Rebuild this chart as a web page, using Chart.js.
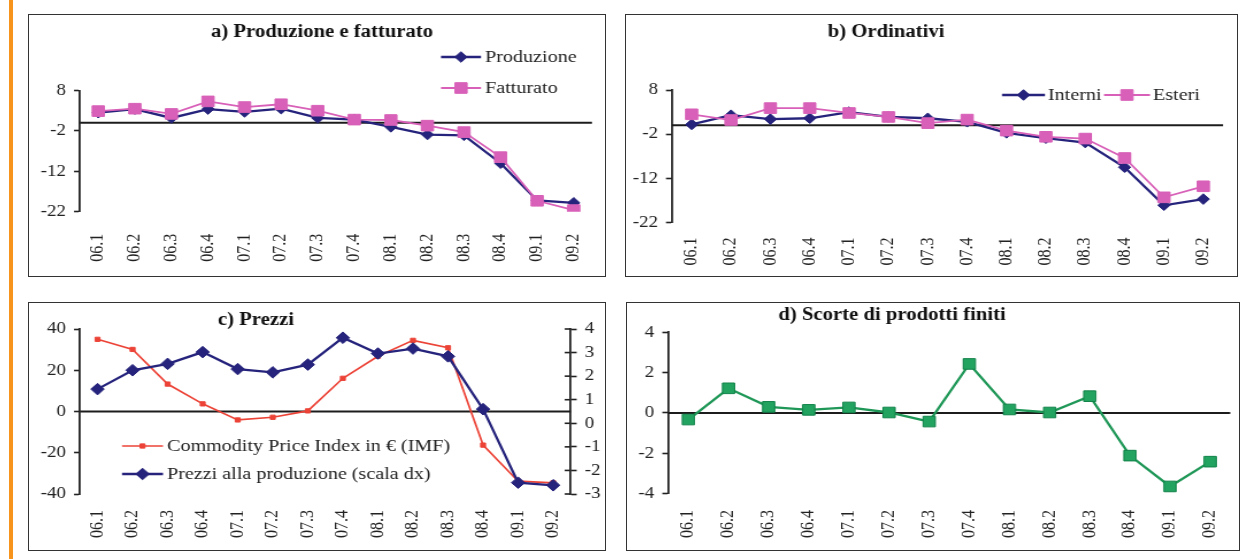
<!DOCTYPE html>
<html>
<head>
<meta charset="utf-8">
<script src="https://cdn.jsdelivr.net/npm/chart.js@4.4.1/dist/chart.umd.min.js"></script>
<style>
  html, body { margin: 0; padding: 0; background: #fff; }
  #page { position: relative; width: 1244px; height: 559px; overflow: hidden; background: #fff; }
  .bar { position: absolute; left: 9px; top: 0; width: 4px; height: 559px; background: #F7941D; }
  canvas { position: absolute; }
  .frame { position: absolute; border: 1px solid #333; box-sizing: border-box; pointer-events: none; }
</style>
</head>
<body>
<div id="page"><div class="bar"></div></div>
<script>
// Quarters (year.quarter)
const categories = ['06.1','06.2','06.3','06.4','07.1','07.2','07.3','07.4','08.1','08.2','08.3','08.4','09.1','09.2'];

// a) Produzione e fatturato
const produzione = [2.5, 3.4, 1.2, 3.4, 2.7, 3.5, 1.2, 0.8, -1.0, -2.9, -3.1, -10.0, -19.2, -19.8];
const fatturato  = [2.9, 3.5, 2.2, 5.3, 3.9, 4.6, 3.0, 0.8, 0.7, -0.7, -2.3, -8.5, -19.3, -21.6];

// b) Ordinativi
const interni = [0.2, 2.3, 1.4, 1.6, 3.0, 1.9, 1.6, 0.8, -1.7, -2.9, -3.9, -9.5, -18.1, -16.7];
const esteri  = [2.5, 1.2, 3.9, 3.9, 2.8, 1.9, 0.5, 1.3, -1.2, -2.6, -3.0, -7.4, -16.3, -13.8];

// c) Prezzi (commodity index on the left scale, producer prices on the right scale)
const commodity = [35.0, 30.1, 13.3, 3.7, -4.1, -2.8, 0.3, 16.1, 26.8, 34.5, 30.9, -16.3, -33.8, -34.6];
const prezzi    = [1.45, 2.25, 2.52, 3.02, 2.30, 2.16, 2.49, 3.63, 2.96, 3.17, 2.84, 0.60, -2.52, -2.63];

// d) Scorte di prodotti finiti
const scorte = [-0.33, 1.22, 0.30, 0.15, 0.27, 0.02, -0.43, 2.43, 0.17, 0.02, 0.83, -2.12, -3.65, -2.42];

// Tick labels of the value axes
const ticksA = [8, -2, -12, -22];
const ticksB = [8, -2, -12, -22];
const ticksCLeft = [40, 20, 0, -20, -40];
const ticksCRight = [4, 3, 2, 1, 0, -1, -2, -3];
const ticksD = [4, 2, 0, -2, -4];

const SERIF = '"Liberation Serif", "Times New Roman", serif';
const STRETCH = 1.15;   // horizontal widening of each panel's drawing
const NAVY = '#25237B', PINK = '#D860B8', RED = '#EC4337', GREEN = '#1F9757';
const TEXT = '#222';

function drawMarker(ctx, ds, x, y) {
  const r = ds.pointRadius;
  ctx.beginPath();
  if (ds.pointStyle === 'rect') {
    const s = r * Math.SQRT1_2;
    ctx.rect(x - s, y - s, 2 * s, 2 * s);
  } else {
    ctx.moveTo(x - r, y); ctx.lineTo(x, y - r); ctx.lineTo(x + r, y); ctx.lineTo(x, y + r);
    ctx.closePath();
  }
  ctx.fillStyle = ds.pointBackgroundColor;
  ctx.fill();
  ctx.lineWidth = ds.pointBorderWidth;
  ctx.strokeStyle = ds.pointBorderColor;
  ctx.stroke();
}

// Zero reference line, panel title, legend and inner tick halves
const decor = {
  id: 'decor',
  beforeDatasetsDraw(chart, args, o) {
    const { ctx, chartArea: a } = chart;
    const y0 = chart.scales.y.getPixelForValue(0);
    ctx.save();
    ctx.strokeStyle = '#1c1c1c';
    ctx.lineWidth = 2;
    ctx.beginPath(); ctx.moveTo(a.left, y0); ctx.lineTo(a.right, y0); ctx.stroke();
    ctx.restore();
  },
  afterDraw(chart, args, o) {
    const ctx = chart.ctx;
    ctx.save();
    ctx.font = 'bold 18px ' + SERIF;
    ctx.fillStyle = '#111';
    ctx.textAlign = 'center';
    ctx.textBaseline = 'middle';
    ctx.fillText(o.title.text, o.X(o.title.x), o.Y(o.title.y));

    (o.legend || []).forEach(it => {
      const ds = chart.data.datasets[it.ds];
      const y = o.Y(it.y);
      ctx.strokeStyle = ds.borderColor;
      ctx.lineWidth = ds.borderWidth;
      ctx.beginPath(); ctx.moveTo(o.X(it.x0), y); ctx.lineTo(o.X(it.x1), y); ctx.stroke();
      drawMarker(ctx, ds, o.X((it.x0 + it.x1) / 2), y);
      ctx.font = '17.5px ' + SERIF;
      ctx.fillStyle = TEXT;
      ctx.textAlign = 'left';
      ctx.textBaseline = 'middle';
      ctx.fillText(ds.label, o.X(it.tx), y);
    });

    if (o.innerTicks && chart.scales.y2) {
      const s = chart.scales.y2, a = chart.chartArea;
      ctx.strokeStyle = '#222';
      ctx.lineWidth = 1.6;
      s.ticks.forEach(t => {
        const py = s.getPixelForValue(t.value);
        ctx.beginPath(); ctx.moveTo(a.right - o.tickIn, py); ctx.lineTo(a.right, py); ctx.stroke();
      });
    }
    ctx.restore();
  }
};
Chart.register(decor);

function valueAxis(values, position, widthCanvas, sx) {
  return {
    type: 'linear',
    position,
    min: Math.min(...values),
    max: Math.max(...values),
    afterBuildTicks: s => { s.ticks = values.map(v => ({ value: v })); },
    afterFit: s => { s.width = widthCanvas; s.paddingTop = 0; s.paddingBottom = 0; },
    grid: { drawOnChartArea: false, drawTicks: true, tickLength: 6 / sx, tickColor: '#222', tickWidth: 1.6, color: '#222' },
    border: { display: true, color: '#222', width: 1.8 },
    ticks: { padding: 8 / sx, color: TEXT, font: { family: SERIF, size: 16.5 }, callback: v => String(v) }
  };
}

function panel(p) {
  const page = document.getElementById('page');
  const w = p.box.r - p.box.l, h = p.box.b - p.box.t;
  const cw = Math.round(w / STRETCH);
  const sx = w / cw;
  const cv = document.createElement('canvas');
  cv.width = cw; cv.height = h;
  cv.style.left = p.box.l + 'px'; cv.style.top = p.box.t + 'px';
  cv.style.width = w + 'px'; cv.style.height = h + 'px';
  page.appendChild(cv);
  const fr = document.createElement('div');
  fr.className = 'frame';
  fr.style.left = p.box.l + 'px'; fr.style.top = p.box.t + 'px';
  fr.style.width = w + 'px'; fr.style.height = h + 'px';
  page.appendChild(fr);

  const X = px => (px - p.box.l) / sx;
  const Y = py => py - p.box.t;

  const scales = {
    x: {
      type: 'category',
      offset: true,
      grid: { display: false, drawTicks: false },
      border: { display: false },
      ticks: { autoSkip: false, maxRotation: 90, minRotation: 90, padding: p.gap, color: TEXT, font: { family: SERIF, size: 16 } },
      afterFit: s => { s.height = p.box.b - p.area.b; s.paddingLeft = 0; s.paddingRight = 0; }
    },
    y: valueAxis(p.yTicks, 'left', (p.area.l - p.box.l) / sx, sx)
  };
  if (p.y2Ticks) scales.y2 = valueAxis(p.y2Ticks, 'right', (p.box.r - p.area.r) / sx, sx);

  new Chart(cv, {
    type: 'line',
    data: { labels: categories, datasets: p.datasets },
    options: {
      responsive: false,
      animation: false,
      devicePixelRatio: 1,
      layout: { padding: { left: 0, top: p.area.t - p.box.t, bottom: 0, right: p.y2Ticks ? 0 : (p.box.r - p.area.r) / sx } },
      elements: { line: { tension: 0 } },
      plugins: {
        legend: { display: false },
        tooltip: { enabled: false },
        title: { display: false },
        decor: { title: p.title, legend: p.legend, X, Y, innerTicks: !!p.y2Ticks, tickIn: 6 / sx }
      },
      scales
    }
  });
}

function series(label, data, color, style, radius, extra) {
  return Object.assign({
    label, data,
    borderColor: color, backgroundColor: color, borderWidth: 2.3,
    pointStyle: style, pointRadius: radius, pointHoverRadius: radius,
    pointBackgroundColor: color, pointBorderColor: color, pointBorderWidth: 1,
    fill: false
  }, extra || {});
}

panel({
  box: { l: 28, t: 14, r: 606, b: 277 },
  area: { l: 80, t: 90.5, r: 592, b: 211.7 },
  gap: 22,
  yTicks: ticksA,
  title: { text: 'a) Produzione e fatturato', x: 322, y: 32 },
  legend: [ { ds: 0, x0: 441, x1: 481, y: 57, tx: 485 }, { ds: 1, x0: 441, x1: 481, y: 88, tx: 485 } ],
  datasets: [
    series('Produzione', produzione, NAVY, 'rectRot', 5.3, { order: 1 }),
    series('Fatturato', fatturato, PINK, 'rect', 7.5, { order: 0, borderWidth: 1.8 })
  ]
});

panel({
  box: { l: 625, t: 14, r: 1238, b: 277 },
  area: { l: 672, t: 90, r: 1223, b: 222.5 },
  gap: 15,
  yTicks: ticksB,
  title: { text: 'b) Ordinativi', x: 886, y: 32 },
  legend: [ { ds: 0, x0: 1002, x1: 1045, y: 95, tx: 1048 }, { ds: 1, x0: 1104, x1: 1150, y: 95, tx: 1153 } ],
  datasets: [
    series('Interni', interni, NAVY, 'rectRot', 5.3, { order: 1 }),
    series('Esteri', esteri, PINK, 'rect', 7.5, { order: 0, borderWidth: 1.8 })
  ]
});

panel({
  box: { l: 28, t: 302, r: 606, b: 551 },
  area: { l: 80, t: 329, r: 570.7, b: 494 },
  gap: 16,
  yTicks: ticksCLeft,
  y2Ticks: ticksCRight,
  title: { text: 'c) Prezzi', x: 256, y: 320 },
  legend: [ { ds: 0, x0: 122, x1: 163, y: 446, tx: 167 }, { ds: 1, x0: 122, x1: 163, y: 474, tx: 167 } ],
  datasets: [
    series('Commodity Price Index in \u20AC (IMF)', commodity, RED, 'rect', 3, { order: 1, borderWidth: 1.7, yAxisID: 'y' }),
    series('Prezzi alla produzione (scala dx)', prezzi, NAVY, 'rectRot', 5.8, { order: 0, yAxisID: 'y2' })
  ]
});

panel({
  box: { l: 626, t: 302, r: 1240, b: 551 },
  area: { l: 668.3, t: 332.3, r: 1240, b: 493.5 },
  gap: 16.5,
  yTicks: ticksD,
  title: { text: 'd) Scorte di prodotti finiti', x: 892, y: 315 },
  legend: [],
  datasets: [
    series('Scorte di prodotti finiti', scorte, GREEN, 'rect', 7.5, { pointBackgroundColor: '#22A360', pointBorderColor: '#12834A' })
  ]
});
</script>
</body>
</html>
